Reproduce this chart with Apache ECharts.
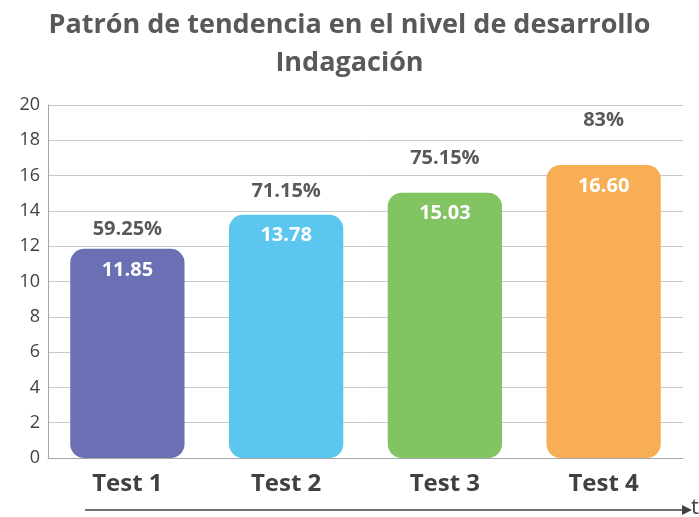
<!DOCTYPE html>
<html>
<head>
<meta charset="utf-8">
<script src="https://cdn.jsdelivr.net/npm/echarts@6/dist/echarts.min.js"></script>
<style>
  html, body { margin: 0; padding: 0; background: #fff; }
  #chart { width: 699px; height: 517px; }
</style>
</head>
<body>
<div id="chart"></div>
<script>
const categories = ['Test 1', 'Test 2', 'Test 3', 'Test 4'];
const scores = [11.85, 13.78, 15.03, 16.60];
const percents = ['59.25%', '71.15%', '75.15%', '83%'];
const barColors = ['#6A70B3', '#5BC7EF', '#82C462', '#F7AE55'];
// percent labels sit at varying heights above the bars in the original
const pctLift = [10, 13, 24, 35];

const chart = echarts.init(document.getElementById('chart'));

const option = {
  animation: false,
  textStyle: { fontFamily: 'Open Sans' },
  title: {
    text: 'Patrón de tendencia en el nivel de desarrollo\nIndagación',
    left: 'center',
    top: 1,
    textStyle: {
      fontFamily: 'Open Sans',
      fontWeight: 'bold',
      fontSize: 27,
      lineHeight: 38,
      color: '#595959'
    }
  },
  grid: { left: 48, right: 16, top: 105, bottom: 59 },
  xAxis: {
    type: 'category',
    data: categories,
    axisLine: { lineStyle: { color: '#a6a6a6', width: 1 } },
    axisTick: { inside: true, length: 8, lineStyle: { color: '#a6a6a6' } },
    axisLabel: {
      fontSize: 24,
      fontWeight: 'bold',
      color: '#404040',
      margin: 14
    }
  },
  yAxis: {
    type: 'value',
    min: 0,
    max: 20,
    interval: 2,
    axisLine: { show: true, lineStyle: { color: '#a6a6a6' } },
    axisTick: { show: false },
    axisLabel: { fontSize: 18, color: '#404040', margin: 8 },
    splitLine: { lineStyle: { color: '#c8c8c8' } }
  },
  series: [{
    type: 'bar',
    barWidth: '72%',
    data: scores.map((v, i) => ({
      value: v,
      itemStyle: { color: barColors[i], borderRadius: 14 }
    })),
    label: {
      show: true,
      position: 'insideTop',
      distance: 11,
      formatter: p => p.value.toFixed(2),
      color: '#fff',
      fontWeight: 'bold',
      fontSize: 20
    }
  }, {
    type: 'bar',
    barGap: '-100%',
    barWidth: '72%',
    silent: true,
    itemStyle: { color: 'transparent' },
    data: scores.map((v, i) => ({
      value: v,
      label: {
        show: true,
        position: 'top',
        distance: pctLift[i],
        formatter: percents[i],
        color: '#595959',
        fontWeight: 'bold',
        fontSize: 20
      }
    }))
  }],
  graphic: [{
    type: 'line',
    shape: { x1: 85, y1: 510, x2: 684, y2: 510 },
    style: { stroke: '#404040', lineWidth: 1.5 }
  }, {
    type: 'polygon',
    shape: { points: [[692, 510], [682, 505], [682, 515]] },
    style: { fill: '#404040' }
  }, {
    type: 'text',
    left: 691,
    top: 497,
    style: { text: 't', fontSize: 22, fontFamily: 'Open Sans', fill: '#404040' }
  }]
};

chart.setOption(option);
</script>
</body>
</html>
